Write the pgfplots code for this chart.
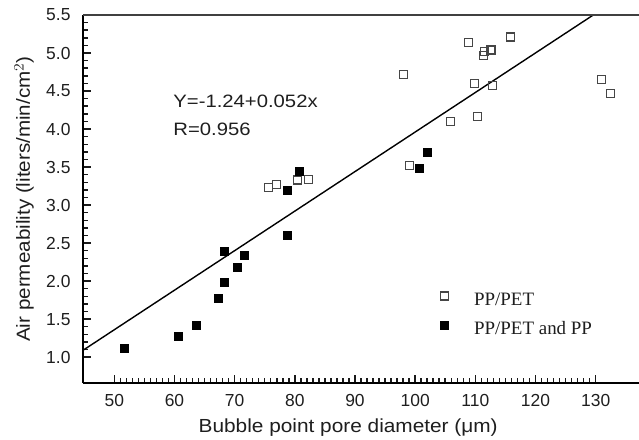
\documentclass[border=0pt]{standalone}
\usepackage{fontspec}
\setmainfont{Liberation Sans}
\newfontfamily\seriffont{Liberation Serif}
\usepackage{graphicx}
\usepackage{pgfplots}
\pgfplotsset{compat=1.18}
\definecolor{txt}{RGB}{30,30,30}
\definecolor{tickcol}{RGB}{25,25,25}
\definecolor{opengray}{RGB}{70,70,70}

\pgfplotstableread{
x y
75.6 3.23
76.9 3.27
80.4 3.33
82.3 3.34
98.0 4.72
108.9 5.14
115.8 5.21
112.6 5.04
111.3 4.97
111.5 5.02
109.8 4.60
112.8 4.57
110.4 4.17
105.9 4.10
99.1 3.52
131.0 4.65
132.4 4.47
}\openpts

\pgfplotstableread{
x y
51.7 1.12
60.7 1.27
63.6 1.42
67.3 1.78
68.2 1.98
68.2 2.39
70.5 2.18
71.6 2.34
78.7 2.60
78.8 3.20
80.7 3.44
100.7 3.48
102.0 3.70
}\filledpts

\begin{document}
\begin{tikzpicture}
\begin{axis}[
    at={(0,0)},anchor=south west,
    scale only axis,
    width=556bp,height=368bp,
    xmin=44.8,xmax=137.2,ymin=0.66,ymax=5.5,
    axis lines*=left,
    axis line style={line width=1.6bp,black},
    xtick={50,60,...,130},
    ytick={1.0,1.5,...,5.5},
    minor x tick num=9,
    minor y tick num=4,
    tick align=inside,
    major tick length=8bp,
    minor tick length=5bp,
    tick style={line width=1.5bp,draw=tickcol},
    /pgf/number format/assume math mode=true,
    yticklabel={\pgfmathprintnumber[fixed,fixed zerofill,precision=1]{\tick}},
    xticklabel style={font=\fontsize{17.5}{20}\selectfont,color=txt,yshift=-8bp},
    yticklabel style={font=\fontsize{17.5}{20}\selectfont,color=txt,xshift=-9bp},
    every axis x label/.style={at={(axis description cs:0.477,-0.12)},anchor=center},
    every axis y label/.style={at={(axis description cs:-0.106,0.5)},rotate=90,anchor=center},
    xlabel={\scalebox{1.1}[1]{\fontsize{19}{22}\selectfont\color{txt}Bubble point pore diameter (μm)}},
    ylabel={\scalebox{1.09}[1]{\fontsize{19}{22}\selectfont\color{txt}Air permeability (liters/min/cm$^{2}$)}},
    legend style={draw=none,fill=none,inner sep=0pt,
        at={(axis description cs:0.642,0.187)},anchor=west,
        font=\fontsize{19}{22}\selectfont\seriffont\color{txt},
        nodes={inner xsep=0pt,inner ysep=0pt},
        row sep=14bp,
        /tikz/every odd column/.append style={column sep=26bp}},
    legend cell align=left,
    legend image code/.code={\draw[#1] plot coordinates {(0bp,4bp)};},
]
\addplot[only marks,mark=square,mark size=4bp,mark options={draw=opengray,line width=1.1bp,fill=white}] table[x=x,y=y] {\openpts};
\addlegendentry{PP/PET}
\addplot[only marks,mark=square*,mark size=4bp,mark options={draw=black,fill=black,line width=0.6bp}] table[x=x,y=y] {\filledpts};
\addlegendentry{PP/PET and PP}
\addplot[black,line width=1.4bp,forget plot] coordinates {(44.8,1.09)(129.6,5.5)};
\node[anchor=west,inner sep=0pt,color=txt] at (axis cs:59.8,4.37) {\scalebox{1.13}[1]{\fontsize{18}{21}\selectfont Y=-1.24+0.052x}};
\node[anchor=west,inner sep=0pt,color=txt] at (axis cs:59.8,4.00) {\scalebox{1.13}[1]{\fontsize{18}{21}\selectfont R=0.956}};
\end{axis}
\draw[line width=1.2bp,black!75] (0bp,368bp) -- (556bp,368bp);
\pgfresetboundingbox
\path[use as bounding box] (-83bp,-57bp) rectangle (556bp,383bp);
\end{tikzpicture}
\end{document}
